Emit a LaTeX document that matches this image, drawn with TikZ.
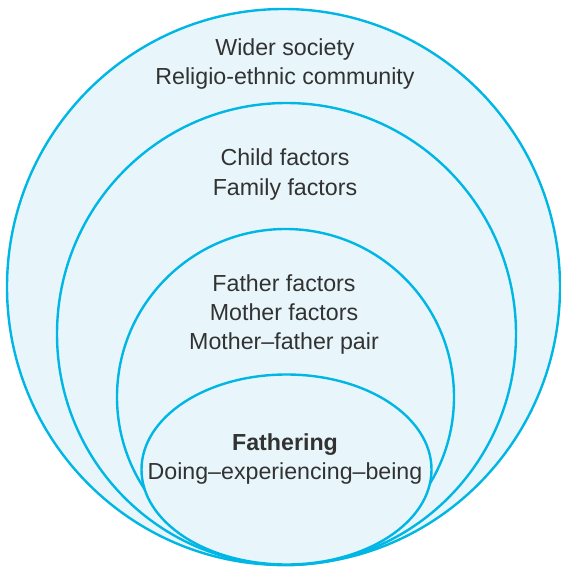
\documentclass[tikz,border=0pt]{standalone}
\usepackage{fontspec}
\setmainfont{Liberation Sans}
\definecolor{ringblue}{RGB}{0,182,228}
\definecolor{ringfill}{RGB}{232,246,251}
\definecolor{txt}{RGB}{50,50,50}
\tikzset{
  ring/.style={draw=ringblue, fill=ringfill, line width=2.4pt},
  lbl/.style={anchor=base, inner sep=0pt, text=txt, font=\fontsize{23.2}{29}\selectfont},
  lblbold/.style={lbl, font=\fontsize{23.2}{29}\selectfont\bfseries}
}
\begin{document}
\begin{tikzpicture}[x=1pt,y=-1pt]
\useasboundingbox (0,0) rectangle (561,567);
\path[ring] (283.5,287) ellipse [x radius=276.5pt, y radius=278pt];
\path[ring] (286.5,334) ellipse [x radius=229.5pt, y radius=231pt];
\path[ring] (285.5,397) ellipse [x radius=168.5pt, y radius=168pt];
\path[ring] (286.5,469.5) ellipse [x radius=145pt, y radius=95pt];
\node[lbl] (w1) at (285,56) {Wider society};
\node[lbl] (w2) at (285,85) {Religio-ethnic community};
\node[lbl] (c1) at (285,165.7) {Child factors};
\node[lbl] (c2) at (285,195) {Family factors};
\node[lbl] (f1) at (284,291) {Father factors};
\node[lbl] (f2) at (284,320) {Mother factors};
\node[lbl] (f3) at (284,349) {Mother–father pair};
\node[lblbold] (a1) at (285,450) {Fathering};
\node[lbl] (a2) at (285,479) {Doing–experiencing–being};
\end{tikzpicture}
\end{document}
